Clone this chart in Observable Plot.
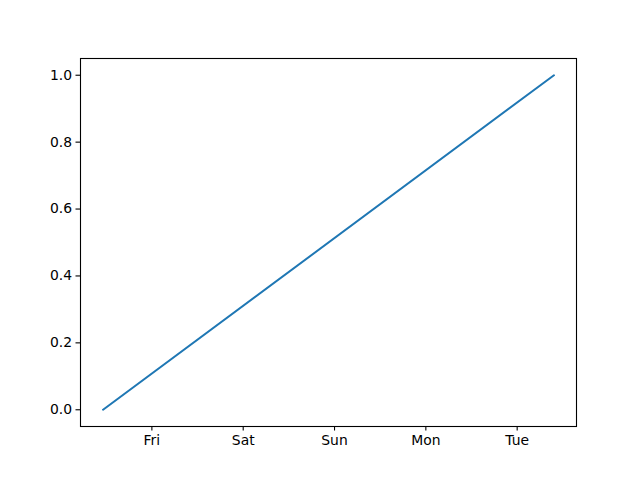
<!DOCTYPE html>
<html>
<head>
<meta charset="utf-8">
<script src="https://cdn.jsdelivr.net/npm/d3@7"></script>
<script src="https://cdn.jsdelivr.net/npm/@observablehq/plot@0.6"></script>
<style>
  html, body { margin: 0; padding: 0; background: #fff; }
  #chart { width: 640px; height: 480px; }
</style>
</head>
<body>
<div id="chart"></div>
<script>
// Data
const dates = ["2023-01-05T11:10:00Z", "2023-01-10T09:40:00Z"];
const values = [0, 1];
const xTickDates = ["2023-01-06", "2023-01-07", "2023-01-08", "2023-01-09", "2023-01-10"];
const yTicks = [0, 0.2, 0.4, 0.6, 0.8, 1.0];

const data = dates.map((d, i) => ({date: new Date(d), value: values[i]}));
const ext = d3.extent(data, d => d.date);
const span = ext[1] - ext[0];
const xDomain = [new Date(+ext[0] - 0.05 * span), new Date(+ext[1] + 0.05 * span)];
const yExt = d3.extent(values);
const yPad = 0.05 * (yExt[1] - yExt[0]);

const chart = Plot.plot({
  width: 640,
  height: 480,
  marginLeft: 80,
  marginRight: 64,
  marginTop: 58,
  marginBottom: 54,
  style: {background: "#fff", fontFamily: "DejaVu Sans, sans-serif", fontSize: "13.9px", color: "#000"},
  x: {type: "utc", domain: xDomain},
  y: {domain: [yExt[0] - yPad, yExt[1] + yPad]},
  marks: [
    Plot.line(data, {x: "date", y: "value", stroke: "#1f77b4", strokeWidth: 2}),
    Plot.frame({stroke: "#000", strokeWidth: 1.1}),
    Plot.axisX({ticks: xTickDates.map(d => new Date(d + "T00:00:00Z")), tickFormat: d3.utcFormat("%a"), tickSize: 4.5, tickPadding: 4, label: null, strokeWidth: 1.1}),
    Plot.axisY({ticks: yTicks, tickFormat: d3.format(".1f"), tickSize: 4.5, tickPadding: 4, label: null, strokeWidth: 1.1})
  ]
});
document.getElementById("chart").appendChild(chart);
</script>
</body>
</html>
